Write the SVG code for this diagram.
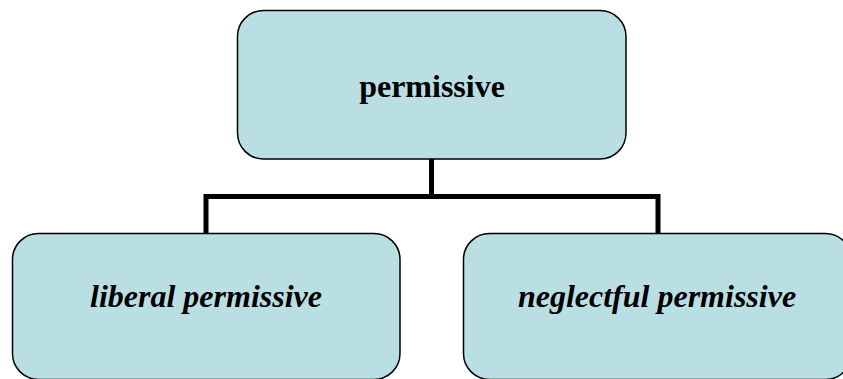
<svg xmlns="http://www.w3.org/2000/svg" width="843" height="379" viewBox="0 0 843 379">
<style>
.box{fill:#b9dfe3;stroke:#000;stroke-width:1.5}
.t{font-family:'Liberation Serif','DejaVu Serif',serif;font-weight:bold;font-size:32px;fill:#000;text-anchor:middle}
.i{font-style:italic}
.c{fill:none;stroke:#000;stroke-width:5}
</style>
<g id="connectors">
<path class="c" d="M431.5 159 V196.5 M206 233 V196.5 H658 V233"/>
</g>
<g id="top">
<rect class="box" x="237.5" y="10.5" width="388.5" height="148.5" rx="26"/>
<text class="t" x="432" y="97">permissive</text>
</g>
<g id="left">
<rect class="box" x="12.5" y="233.5" width="387.5" height="146" rx="26"/>
<text class="t i" x="206" y="307">liberal permissive</text>
</g>
<g id="right">
<rect class="box" x="463.5" y="233.5" width="388" height="146" rx="26"/>
<text class="t i" x="657" y="307">neglectful permissive</text>
</g>
</svg>
